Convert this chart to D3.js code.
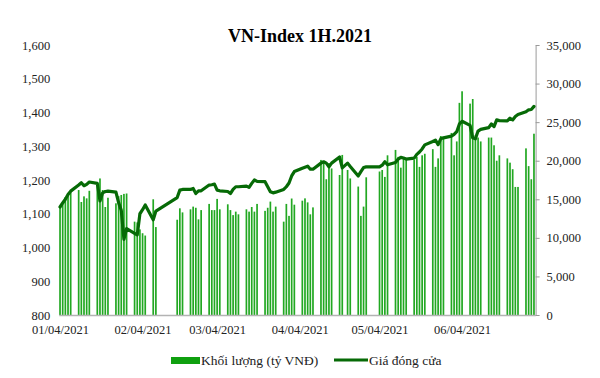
<!DOCTYPE html>
<html>
<head>
<meta charset="utf-8">
<script src="https://cdn.jsdelivr.net/npm/d3@7"></script>
<style>
    body { margin: 0; background: #fff; }
    svg text { font-family: "Liberation Serif", "Times New Roman", serif; }
</style>
</head>
<body>
<svg class="vnIndex"></svg>
<script>
// trading days, 1H.2021 (one line per week)
const tradingDays = [
    "2021-01-04","2021-01-05","2021-01-06","2021-01-07","2021-01-08",
    "2021-01-11","2021-01-12","2021-01-13","2021-01-14","2021-01-15",
    "2021-01-18","2021-01-19","2021-01-20","2021-01-21","2021-01-22",
    "2021-01-25","2021-01-26","2021-01-27","2021-01-28","2021-01-29",
    "2021-02-01","2021-02-02","2021-02-03","2021-02-04","2021-02-05",
    "2021-02-08","2021-02-09",
    "2021-02-17","2021-02-18","2021-02-19",
    "2021-02-22","2021-02-23","2021-02-24","2021-02-25","2021-02-26",
    "2021-03-01","2021-03-02","2021-03-03","2021-03-04","2021-03-05",
    "2021-03-08","2021-03-09","2021-03-10","2021-03-11","2021-03-12",
    "2021-03-15","2021-03-16","2021-03-17","2021-03-18","2021-03-19",
    "2021-03-22","2021-03-23","2021-03-24","2021-03-25","2021-03-26",
    "2021-03-29","2021-03-30","2021-03-31","2021-04-01","2021-04-02",
    "2021-04-05","2021-04-06","2021-04-07","2021-04-08","2021-04-09",
    "2021-04-12","2021-04-13","2021-04-14","2021-04-15","2021-04-16",
    "2021-04-19","2021-04-20","2021-04-22","2021-04-23",
    "2021-04-26","2021-04-27","2021-04-28","2021-04-29",
    "2021-05-04","2021-05-05","2021-05-06","2021-05-07",
    "2021-05-10","2021-05-11","2021-05-12","2021-05-13","2021-05-14",
    "2021-05-17","2021-05-18","2021-05-19","2021-05-20","2021-05-21",
    "2021-05-24","2021-05-25","2021-05-26","2021-05-27","2021-05-28",
    "2021-05-31","2021-06-01","2021-06-02","2021-06-03","2021-06-04",
    "2021-06-07","2021-06-08","2021-06-09","2021-06-10","2021-06-11",
    "2021-06-14","2021-06-15","2021-06-16","2021-06-17","2021-06-18",
    "2021-06-21","2021-06-22","2021-06-23","2021-06-24","2021-06-25",
    "2021-06-28","2021-06-29","2021-06-30","2021-07-01"
];

// Giá đóng cửa (left axis)
const closePrice = [
    1120, 1132, 1143, 1157, 1167,
    1185, 1192, 1183, 1187, 1194,
    1190, 1138, 1162, 1166, 1167,
    1164, 1133, 1110, 1024, 1056,
    1042, 1037, 1100, 1112, 1126,
    1082, 1108,
    1148, 1170, 1172,
    1172, 1175, 1160, 1168, 1168,
    1185, 1186, 1188, 1170, 1168,
    1166, 1160, 1172, 1180, 1180,
    1182, 1178, 1190, 1200, 1196,
    1195, 1180, 1165, 1162, 1164,
    1172, 1180, 1191, 1212, 1225,
    1235, 1238, 1241, 1232, 1232,
    1250, 1254, 1250, 1239, 1250,
    1268, 1236, 1250, 1240,
    1212, 1225, 1237, 1239,
    1239, 1244, 1254, 1245,
    1252, 1262, 1267, 1265, 1262,
    1265, 1276, 1283, 1292, 1304,
    1314, 1318, 1305, 1322, 1325,
    1330, 1335, 1343, 1366, 1374,
    1362, 1325, 1322, 1345, 1350,
    1355, 1366, 1358, 1378, 1376,
    1375, 1383, 1378, 1388, 1394,
    1402, 1408, 1409, 1418
];

// Khối lượng, tỷ VNĐ (right axis)
const volume = [
    14000, 14500, 15300, 15600, 15900,
    16200, 14650, 15380, 15120, 16100,
    16800, 17700, 16200, 14000, 15200,
    14480, 15400, 15560, 15700, 15750,
    12100, 12000, 11100, 10600, 10300,
    15000, 11400,
    12350, 13830, 13300,
    13700, 14050, 13900, 12400, 13600,
    14400, 13600, 13600, 15050, 13700,
    14350, 13600, 12950, 13400, 13050,
    13700, 13400, 14000, 13400, 14400,
    13500, 13900, 14700, 13400, 14050,
    12100, 14400, 12850, 15100, 14300,
    14820, 15120, 14600, 13050, 13950,
    20100, 19900, 17600, 19700, 19000,
    18150, 20750, 18800, 17700,
    16650, 12850, 14050, 17850,
    18600, 18800, 17900, 20700,
    21400, 20500, 19100, 20450, 20300,
    20100, 20500, 19200, 20700, 20900,
    21500, 19200, 20300, 23200, 23100,
    23600, 20700, 22500, 27500, 29000,
    27400, 28000, 23300, 23000, 22500,
    23000, 23000, 22000, 20000, 20700,
    20300, 19750, 18900, 16600, 16600,
    21600, 19300, 17600, 23500
];

const tickDates = ["2021-01-04","2021-02-04","2021-03-04","2021-04-04","2021-05-04","2021-06-04"];
const tickLabels = ["01/04/2021","02/04/2021","03/04/2021","04/04/2021","05/04/2021","06/04/2021"];
const priceTicks = [800, 900, 1000, 1100, 1200, 1300, 1400, 1500, 1600];
const volumeTicks = [0, 5000, 10000, 15000, 20000, 25000, 30000, 35000];

const legendLabels = ["Khối lượng (tỷ VNĐ)", "Giá đóng cửa"];

drawChart();

function drawChart() {
    const width = 600, height = 378;
    const plot = {left: 58.7, right: 535.3, top: 45, bottom: 315};
    const barColor = "#22a822", lineColor = "#066a06";

    const parse = d3.utcParse("%Y-%m-%d");
    const data = tradingDays.map((d, i) => ({date: parse(d), close: closePrice[i], vol: volume[i]}));

    const svg = d3.select(".vnIndex")
        .attr("width", width)
        .attr("height", height);

    const halfDay = 12 * 3600 * 1000;
    const x = d3.scaleUtc()
        .domain([+parse("2021-01-04") - halfDay, +parse("2021-07-01") + halfDay])
        .range([plot.left, plot.right]);

    const yL = d3.scaleLinear().domain([800, 1600]).range([plot.bottom, plot.top]);
    const yR = d3.scaleLinear().domain([0, 35000]).range([plot.bottom, plot.top]);

    // title
    svg.append("text")
        .attr("x", 300)
        .attr("y", 42)
        .attr("text-anchor", "middle")
        .style("font-size", "18px")
        .style("font-weight", "bold")
        .style("fill", "#000")
        .text("VN-Index 1H.2021");

    // volume bars
    const bw = 1.7;
    svg.append("g")
        .selectAll("rect")
        .data(data)
        .enter().append("rect")
        .attr("x", d => x(d.date) - bw / 2)
        .attr("width", bw)
        .attr("y", d => yR(d.vol))
        .attr("height", d => yR(0) - yR(d.vol))
        .style("fill", barColor);

    // X axis
    const xAxis = svg.append("g")
        .attr("transform", `translate(0,${plot.bottom})`)
        .call(d3.axisBottom(x)
            .tickValues(tickDates.map(parse))
            .tickFormat((d, i) => tickLabels[i])
            .tickSize(0)
            .tickPadding(10));
    xAxis.select(".domain").attr("stroke", "#b3b3b3").attr("stroke-width", 1.5);

    // left axis (price)
    const leftAxis = svg.append("g")
        .attr("transform", `translate(${plot.left},0)`)
        .call(d3.axisLeft(yL)
            .tickValues(priceTicks)
            .tickFormat(d3.format(","))
            .tickSize(0)
            .tickPadding(8.5));
    leftAxis.select(".domain").remove();

    // right axis (volume)
    const rightAxis = svg.append("g")
        .attr("transform", `translate(${plot.right + 0.3},0)`)
        .call(d3.axisRight(yR)
            .tickValues(volumeTicks)
            .tickFormat(d3.format(","))
            .tickSize(4)
            .tickSizeOuter(0)
            .tickPadding(7));
    rightAxis.select(".domain").attr("stroke", "#9a9a9a");
    rightAxis.selectAll(".tick line").attr("stroke", "#9a9a9a");

    svg.selectAll(".tick text")
        .style("font-size", "12.5px")
        .style("font-family", "'Liberation Serif', 'Times New Roman', serif")
        .style("fill", "#222");

    // close price line
    const line = d3.line()
        .x(d => x(d.date))
        .y(d => yL(d.close));

    svg.append("path")
        .datum(data)
        .attr("d", line)
        .style("fill", "none")
        .style("stroke", lineColor)
        .style("stroke-width", 3.2)
        .style("stroke-linejoin", "round")
        .style("stroke-linecap", "round");

    // legend
    const legend = svg.append("g");
    legend.append("rect")
        .attr("x", 171)
        .attr("y", 357)
        .attr("width", 29)
        .attr("height", 7)
        .style("fill", "#0fa00f");
    legend.append("text")
        .attr("x", 201)
        .attr("y", 365)
        .style("font-size", "13.5px")
        .style("fill", "#222")
        .text(legendLabels[0]);
    legend.append("line")
        .attr("x1", 334)
        .attr("x2", 368)
        .attr("y1", 360)
        .attr("y2", 360)
        .style("stroke", lineColor)
        .style("stroke-width", 3);
    legend.append("text")
        .attr("x", 369)
        .attr("y", 365)
        .style("font-size", "13.5px")
        .style("fill", "#222")
        .text(legendLabels[1]);
}
</script>
</body>
</html>
